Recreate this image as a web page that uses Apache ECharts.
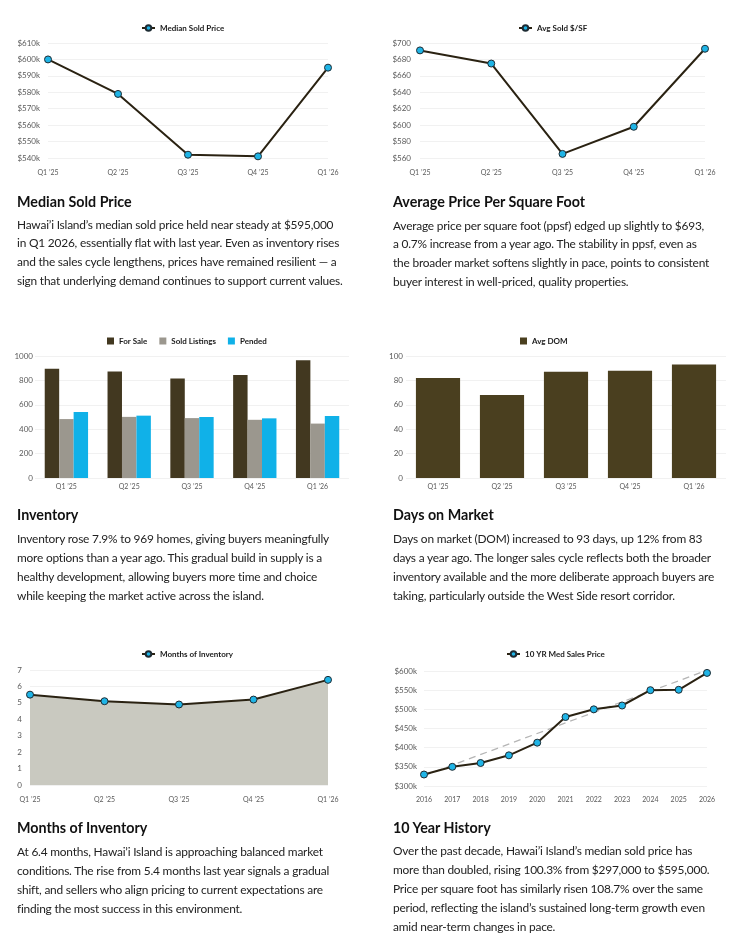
<!DOCTYPE html>
<html><head><meta charset="utf-8">
<script src="https://cdn.jsdelivr.net/npm/echarts@6/dist/echarts.min.js"></script>
<style>
html,body{margin:0;padding:0;background:#fff;}
#c{position:absolute;left:0;top:0;width:740px;height:949px;}
.t{position:absolute;font-family:Lato,sans-serif;font-weight:700;font-size:14.3px;color:#111;white-space:nowrap;line-height:20px;}
.b{position:absolute;font-family:Lato,sans-serif;font-size:11.9px;letter-spacing:-0.2px;color:#222;white-space:nowrap;line-height:18.9px;}
</style></head><body>
<div id="c"></div>
<div class="t" style="left:17px;top:191.7px">Median Sold Price</div>
<div class="b" style="left:17px;top:215.5px">Hawai’i Island’s median sold price held near steady at $595,000<br>in Q1 2026, essentially flat with last year. Even as inventory rises<br>and the sales cycle lengthens, prices have remained resilient — a<br>sign that underlying demand continues to support current values.</div>
<div class="t" style="left:393px;top:191.7px">Average Price Per Square Foot</div>
<div class="b" style="left:393px;top:216.5px">Average price per square foot (ppsf) edged up slightly to $693,<br>a 0.7% increase from a year ago. The stability in ppsf, even as<br>the broader market softens slightly in pace, points to consistent<br>buyer interest in well-priced, quality properties.</div>
<div class="t" style="left:17px;top:505px">Inventory</div>
<div class="b" style="left:17px;top:529.8px">Inventory rose 7.9% to 969 homes, giving buyers meaningfully<br>more options than a year ago. This gradual build in supply is a<br>healthy development, allowing buyers more time and choice<br>while keeping the market active across the island.</div>
<div class="t" style="left:393px;top:505px">Days on Market</div>
<div class="b" style="left:393px;top:529.8px">Days on market (DOM) increased to 93 days, up 12% from 83<br>days a year ago. The longer sales cycle reflects both the broader<br>inventory available and the more deliberate approach buyers are<br>taking, particularly outside the West Side resort corridor.</div>
<div class="t" style="left:17px;top:818.3px">Months of Inventory</div>
<div class="b" style="left:17px;top:843.2px">At 6.4 months, Hawai’i Island is approaching balanced market<br>conditions. The rise from 5.4 months last year signals a gradual<br>shift, and sellers who align pricing to current expectations are<br>finding the most success in this environment.</div>
<div class="t" style="left:393px;top:818.3px">10 Year History</div>
<div class="b" style="left:393px;top:842.2px">Over the past decade, Hawai’i Island’s median sold price has<br>more than doubled, rising 100.3% from $297,000 to $595,000.<br>Price per square foot has similarly risen 108.7% over the same<br>period, reflecting the island’s sustained long-term growth even<br>amid near-term changes in pace.</div>
<script>
// ---- data ----
var quarters = ["Q1 ’25", "Q2 ’25", "Q3 ’25", "Q4 ’25", "Q1 ’26"];
var medianSoldPrice = [600000, 579000, 542000, 541000, 595000];
var avgSoldPerSF = [691, 675, 565, 598, 693];
var forSale = [895, 872, 815, 845, 965];
var soldListings = [483, 501, 491, 477, 446];
var pended = [542, 511, 500, 489, 508];
var avgDOM = [82, 68, 87, 88, 93];
var monthsInventory = [5.5, 5.1, 4.9, 5.2, 6.4];
var years = ["2016","2017","2018","2019","2020","2021","2022","2023","2024","2025","2026"];
var tenYrMedPrice = [330000, 350000, 360000, 380000, 413000, 480000, 500000, 510000, 550000, 551000, 595000];
var trendStartEnd = [327000, 602000];

// ---- chart ----
var FONT = 'Lato, sans-serif';
var LINE = '#2a2212', DOT = '#1fb4e6', DOTB = '#1d2b33';
var GRIDC = '#f1f1f1', LAB = '#5a5a5a';

function catAxis(g, data, bg, margin) {
  return {type:'category', gridIndex:g, data:data, boundaryGap:bg,
    axisLine:{show:false}, axisTick:{show:false},
    axisLabel:{color:LAB, fontSize:7, fontFamily:FONT, margin:margin, interval:0}};
}
function valAxis(g, min, max, interval, fmt, margin) {
  return {type:'value', gridIndex:g, min:min, max:max, interval:interval,
    axisLine:{show:false}, axisTick:{show:false},
    splitLine:{lineStyle:{color:GRIDC, width:1}},
    axisLabel:{color:LAB, fontSize:8, fontFamily:FONT, margin:margin, formatter:fmt}};
}
function lineSeries(name, data, xi) {
  return {name:name, type:'line', xAxisIndex:xi, yAxisIndex:xi, data:data,
    symbol:'circle', symbolSize:7, showSymbol:true,
    lineStyle:{color:LINE, width:2},
    itemStyle:{color:DOT, borderColor:DOTB, borderWidth:1}, z:5};
}
var legText = {fontSize:8, fontWeight:'bold', color:'#1a1a1a', fontFamily:FONT};
function legend(names, left, top, icon, w, h) {
  return {data:names, left:left, top:top, itemWidth:w, itemHeight:h, itemGap:12,
    icon:icon, textStyle:legText, selectedMode:false, padding:0};
}
var kFmt = function (v) { return '$' + (v / 1000) + 'k'; };
var dFmt = function (v) { return '$' + v; };
var nFmt = function (v) { return String(v); };

var chart = echarts.init(document.getElementById('c'), null, {renderer:'canvas'});
var trendData = years.map(function (y, i) {
  return i === 0 ? trendStartEnd[0] : (i === years.length - 1 ? trendStartEnd[1] : null);
});
chart.setOption({
  animation:false,
  textStyle:{fontFamily:FONT},
  grid:[
    {left:48, right:412, top:43, bottom:791},
    {left:420, right:35, top:43, bottom:791},
    {left:35, right:391, top:356, bottom:471},
    {left:406, right:14, top:356, bottom:471},
    {left:30, right:412, top:670, bottom:164},
    {left:424, right:33, top:671, bottom:163}
  ],
  xAxis:[
    catAxis(0, quarters, false, 11),
    catAxis(1, quarters, false, 11),
    catAxis(2, quarters, true, 5),
    catAxis(3, quarters, true, 5),
    catAxis(4, quarters, false, 11),
    catAxis(5, years, false, 10)
  ],
  yAxis:[
    valAxis(0, 540000, 610000, 10000, kFmt, 8),
    valAxis(1, 560, 700, 20, dFmt, 9),
    valAxis(2, 0, 1000, 200, nFmt, 2),
    valAxis(3, 0, 100, 20, nFmt, 3),
    valAxis(4, 0, 7, 1, nFmt, 8),
    valAxis(5, 300000, 600000, 50000, kFmt, 7)
  ],
  legend:[
    legend(['Median Sold Price'], 141, 24, null, 13, 7),
    legend(['Avg Sold $/SF'], 518, 24, null, 13, 7),
    legend(['For Sale','Sold Listings','Pended'], 107, 337, 'rect', 7, 7),
    legend(['Avg DOM'], 520, 337, 'rect', 7, 7),
    legend(['Months of Inventory'], 141, 650, null, 13, 7),
    legend(['10 YR Med Sales Price'], 506, 650, null, 13, 7)
  ],
  series:[
    lineSeries('Median Sold Price', medianSoldPrice, 0),
    lineSeries('Avg Sold $/SF', avgSoldPerSF, 1),
    {name:'For Sale', type:'bar', xAxisIndex:2, yAxisIndex:2, data:forSale,
      barGap:'0%', barCategoryGap:'31%', itemStyle:{color:'#423820'}},
    {name:'Sold Listings', type:'bar', xAxisIndex:2, yAxisIndex:2, data:soldListings,
      barGap:'0%', barCategoryGap:'31%', itemStyle:{color:'#9b978e'}},
    {name:'Pended', type:'bar', xAxisIndex:2, yAxisIndex:2, data:pended,
      barGap:'0%', barCategoryGap:'31%', itemStyle:{color:'#10b1e8'}},
    {name:'Avg DOM', type:'bar', xAxisIndex:3, yAxisIndex:3, data:avgDOM,
      barCategoryGap:'31%', itemStyle:{color:'#4a3f1f'}},
    Object.assign(lineSeries('Months of Inventory', monthsInventory, 4),
      {areaStyle:{color:'#c9c9c0', opacity:1}}),
    {name:'trend', type:'line', xAxisIndex:5, yAxisIndex:5, data:trendData,
      connectNulls:true, showSymbol:false, symbol:'none',
      lineStyle:{color:'#b5b5b5', width:1.3, type:[7,5]}, z:3},
    lineSeries('10 YR Med Sales Price', tenYrMedPrice, 5)
  ]
});
</script>
</body></html>
